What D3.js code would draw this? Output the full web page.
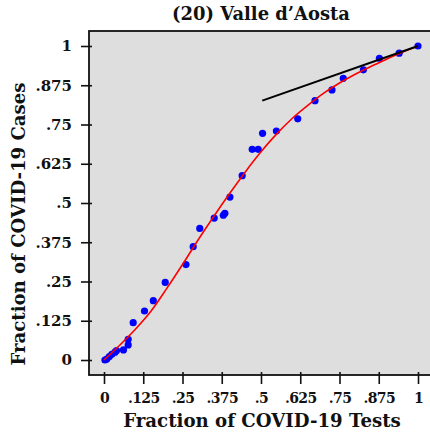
<!DOCTYPE html>
<html>
<head>
<meta charset="utf-8">
<script src="https://cdn.jsdelivr.net/npm/d3@7"></script>
<style>
  html, body { margin: 0; padding: 0; background: #ffffff; }
  svg { display: block; }
  text { font-family: "DejaVu Serif", serif; font-weight: bold; fill: #111; }
</style>
</head>
<body>
<div id="chart"></div>
<script>
// ---- data ----
const titleText = "(20) Valle d\u2019Aosta";
const xLabel = "Fraction of COVID-19 Tests";
const yLabel = "Fraction of COVID-19 Cases";
const tickValues = [0, 0.125, 0.25, 0.375, 0.5, 0.625, 0.75, 0.875, 1];
const tickLabels = ["0", ".125", ".25", ".375", ".5", ".625", ".75", ".875", "1"];

// observed points (fraction of tests, fraction of cases)
const pointX = [0.003, 0.009, 0.017, 0.025, 0.035, 0.040, 0.062, 0.077, 0.077, 0.093,
                0.129, 0.157, 0.195, 0.261, 0.284, 0.305, 0.351, 0.380, 0.385, 0.401,
                0.440, 0.472, 0.491, 0.505, 0.549, 0.617, 0.672, 0.726, 0.762, 0.826,
                0.877, 0.940, 1.000];
const pointY = [0.000, 0.003, 0.011, 0.018, 0.025, 0.030, 0.032, 0.048, 0.066, 0.119,
                0.156, 0.189, 0.247, 0.304, 0.361, 0.419, 0.452, 0.461, 0.467, 0.519,
                0.587, 0.671, 0.671, 0.722, 0.729, 0.768, 0.826, 0.860, 0.897, 0.924,
                0.961, 0.977, 1.000];

// fitted curve (red)
const fitX = [0, 0.05, 0.1, 0.15, 0.2, 0.25, 0.3, 0.35, 0.4, 0.45, 0.5,
              0.55, 0.6, 0.65, 0.7, 0.75, 0.8, 0.85, 0.9, 0.95, 1];
const fitY = [0, 0.047, 0.098, 0.156, 0.228, 0.304, 0.383, 0.458, 0.530, 0.599, 0.663,
              0.72, 0.77, 0.812, 0.85, 0.882, 0.91, 0.935, 0.958, 0.98, 1.0];

// tangent line at the end (black)
const tangentX = [0.504, 1.0];
const tangentY = [0.826, 1.0];

// ---- layout ----
const W = 430, H = 439;
const svg = d3.select("#chart").append("svg").attr("width", W).attr("height", H);

const plot = { left: 89, top: 31, right: 434, bottom: 375 };
const x = d3.scaleLinear().domain([0, 1]).range([104, 418]);
const y = d3.scaleLinear().domain([0, 1]).range([360, 46]);

// background panel
svg.append("rect")
  .attr("x", plot.left).attr("y", plot.top)
  .attr("width", plot.right - plot.left).attr("height", plot.bottom - plot.top)
  .attr("fill", "#dedede")
  .attr("stroke", "#111").attr("stroke-width", 1.8);

const clip = svg.append("clipPath").attr("id", "clip")
  .append("rect").attr("x", plot.left).attr("y", plot.top)
  .attr("width", plot.right - plot.left).attr("height", plot.bottom - plot.top);

// axes
const yAxis = d3.axisLeft(y).tickValues(tickValues)
  .tickFormat((d, i) => tickLabels[i]).tickSizeOuter(0).tickSize(8).tickPadding(9);
const gy = svg.append("g").attr("transform", `translate(${plot.left},0)`).call(yAxis);
gy.select(".domain").remove();
gy.selectAll(".tick line").attr("x1", 3).attr("stroke", "#111").attr("stroke-width", 1.6);
gy.selectAll(".tick text").attr("font-size", 15).attr("fill", "#111")
  .attr("font-family", "DejaVu Serif").attr("font-weight", "bold");

const xAxis = d3.axisBottom(x).tickValues(tickValues)
  .tickFormat((d, i) => tickLabels[i]).tickSizeOuter(0).tickSize(9).tickPadding(9);
const gx = svg.append("g").attr("transform", `translate(0,${plot.bottom})`).call(xAxis);
gx.select(".domain").remove();
gx.selectAll(".tick line").attr("y1", -3).attr("stroke", "#111").attr("stroke-width", 1.6);
gx.selectAll(".tick text").attr("font-size", 14).attr("letter-spacing", -0.6).attr("fill", "#111")
  .attr("font-family", "DejaVu Serif").attr("font-weight", "bold");

// data layer
const g = svg.append("g").attr("clip-path", "url(#clip)");

const points = pointX.map((v, i) => [v, pointY[i]]);
g.selectAll("circle.pt").data(points).join("circle")
  .attr("class", "pt")
  .attr("cx", d => x(d[0])).attr("cy", d => y(d[1]))
  .attr("r", 3.6).attr("fill", "#0000ff");

const line = d3.line().x(d => x(d[0])).y(d => y(d[1])).curve(d3.curveCatmullRom);
g.append("path").datum(fitX.map((v, i) => [v, fitY[i]]))
  .attr("d", line).attr("fill", "none").attr("stroke", "#ff0000").attr("stroke-width", 1.6);

g.append("path").datum(tangentX.map((v, i) => [v, tangentY[i]]))
  .attr("d", d3.line().x(d => x(d[0])).y(d => y(d[1])))
  .attr("fill", "none").attr("stroke", "#000").attr("stroke-width", 2);

// text helper: fit to a measured width
function fitText(sel, targetW, baseSize) {
  sel.attr("font-size", baseSize);
  const len = sel.node().getComputedTextLength();
  sel.attr("font-size", baseSize * targetW / len);
}

const t = svg.append("text").attr("x", 261).attr("y", 20).attr("text-anchor", "middle").text(titleText);
fitText(t, 178, 15);

const xl = svg.append("text").attr("x", 262).attr("y", 427).attr("text-anchor", "middle").text(xLabel);
fitText(xl, 278, 16);

const yl = svg.append("text").attr("transform", "translate(25,224) rotate(-90)")
  .attr("text-anchor", "middle").text(yLabel);
fitText(yl, 283, 16);
</script>
</body>
</html>
